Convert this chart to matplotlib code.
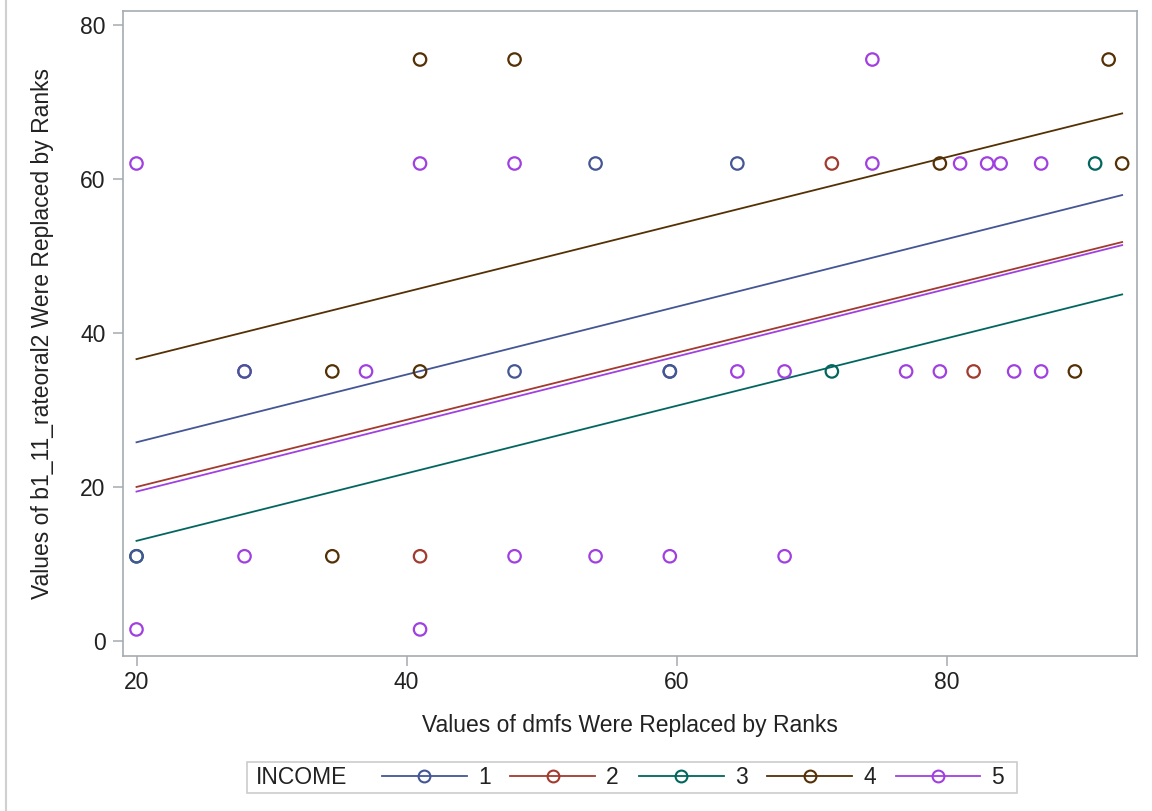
import matplotlib
matplotlib.use('Agg')
import matplotlib.pyplot as plt
from matplotlib.lines import Line2D
from matplotlib.patches import Rectangle

plt.rcParams['font.family'] = ['Liberation Sans', 'DejaVu Sans']

# rank values
groups = ['1', '2', '3', '4', '5']
colors = ['#445694', '#A23A2E', '#01665E', '#543005', '#A040E0']

x_g1 = [28, 48, 54, 59.5, 64.5, 20, 59.5]
y_g1 = [35, 35, 62, 35, 62, 11, 35]
x_g2 = [41, 71.5, 82]
y_g2 = [11, 62, 35]
x_g3 = [20, 71.5, 91]
y_g3 = [11, 35, 62]
x_g4 = [41, 48, 92, 34.5, 41, 79.5, 93, 34.5, 89.5]
y_g4 = [75.5, 75.5, 75.5, 35, 35, 62, 62, 11, 35]
x_g5 = [74.5, 20, 41, 48, 74.5, 81, 83, 84, 87, 37, 64.5, 68, 77, 79.5, 85, 87,
        28, 48, 54, 59.5, 68, 20, 41, 28]
y_g5 = [75.5, 62, 62, 62, 62, 62, 62, 62, 62, 35, 35, 35, 35, 35, 35, 35,
        11, 11, 11, 11, 11, 1.5, 1.5, 35]

# fitted lines (start / end of each group's fit)
line_x = [20, 93]
line_start = [25.8, 20.0, 13.0, 36.6, 19.4]
line_end = [57.9, 51.8, 45.0, 68.5, 51.4]

xs = [x_g1, x_g2, x_g3, x_g4, x_g5]
ys = [y_g1, y_g2, y_g3, y_g4, y_g5]

W, H = 1152, 811
fig = plt.figure(figsize=(W / 100, H / 100), dpi=100)
ax = fig.add_axes([123 / W, 1 - 656 / H, (1137 - 123) / W, (656 - 11) / H])

txt_c = '#222222'
fs = 16.5

for i in range(5):
    ax.plot(line_x, [line_start[i], line_end[i]], color=colors[i], lw=1.3, zorder=2)

# group 5 drawn beneath so overlapping darker markers show through
for i in [4, 3, 2, 1, 0]:
    ax.scatter(xs[i], ys[i], s=80, facecolors='none', edgecolors=colors[i],
               linewidths=1.6, zorder=3)

ax.set_xlim(19.0, 94.1)
ax.set_ylim(-1.95, 81.8)
ax.set_xticks([20, 40, 60, 80])
ax.set_yticks([0, 20, 40, 60, 80])

spine_c = '#A5ABB0'
for s in ax.spines.values():
    s.set_color(spine_c)
    s.set_linewidth(1.2)
ax.tick_params(axis='both', length=7.5, width=1.1, color=spine_c, labelsize=fs,
               labelcolor=txt_c, pad=5)
ax.tick_params(axis='x', pad=3)

ax.set_xlabel('Values of dmfs Were Replaced by Ranks', fontsize=fs, color=txt_c, labelpad=15)
ax.set_ylabel('Values of b1_11_rateoral2 Were Replaced by Ranks', fontsize=fs,
              color=txt_c, labelpad=19)

# legend: frame, title on the left, then the entries
leg_y = 1 - 777.5 / H
fig.add_artist(Rectangle((247 / W, 1 - 793 / H), (1017 - 247) / W, 31 / H,
                         transform=fig.transFigure, facecolor='white',
                         edgecolor='#CCCCCC', lw=1.2))
fig.text(256 / W, leg_y, 'INCOME', fontsize=fs, color=txt_c, va='center', ha='left')
handles = [Line2D([0], [0], color=colors[i], lw=1.3, marker='o', markersize=8.5,
                  markerfacecolor='none', markeredgecolor=colors[i], markeredgewidth=1.5)
           for i in range(5)]
leg = fig.legend(handles, groups, loc='center left', ncol=5,
                 bbox_to_anchor=(382 / W, leg_y), fontsize=fs, frameon=False,
                 handlelength=3.7, handletextpad=0.48, columnspacing=0.87,
                 borderpad=0, borderaxespad=0)
for t in leg.get_texts():
    t.set_color(txt_c)

# page border on the left
fig.add_artist(Line2D([6 / W, 6 / W], [0, 1], color='#D0D0D0', lw=1.5))

fig.savefig('out.png', dpi=100)
